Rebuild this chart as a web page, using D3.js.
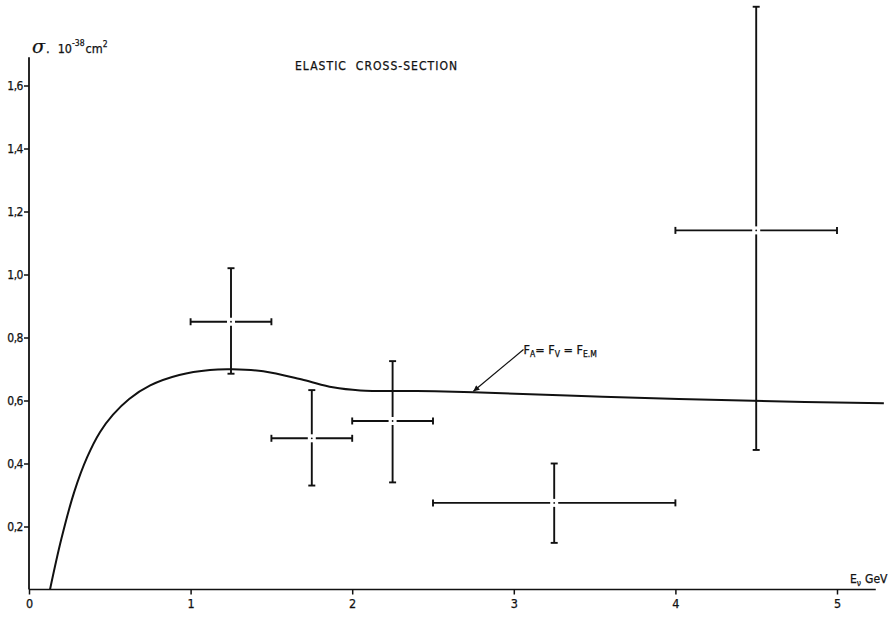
<!DOCTYPE html>
<html>
<head>
<meta charset="utf-8">
<script src="https://cdn.jsdelivr.net/npm/d3@7"></script>
<style>
  html, body { margin: 0; padding: 0; background: #fff; }
  svg { display: block; }
  text { font-family: "DejaVu Sans Condensed", "Liberation Sans", sans-serif; fill: #111; stroke: #111; stroke-width: 0.25px; }
</style>
</head>
<body>
<svg id="chart" width="895" height="618"></svg>
<script>
// Measured elastic cross-sections (neutrino energy bins)
const binCenter = [1.25, 1.75, 2.25, 3.25, 4.5];
const binLow    = [1.0, 1.5, 2.0, 2.5, 4.0];
const binHigh   = [1.5, 2.0, 2.5, 4.0, 5.0];
const sigma     = [0.85, 0.48, 0.535, 0.275, 1.14];
const sigmaLow  = [0.685, 0.33, 0.34, 0.148, 0.443];
const sigmaHigh = [1.02, 0.633, 0.725, 0.40, 1.85];

// Theoretical curve F_A = F_V = F_E.M
const curveE     = [0.13, 0.20, 0.28, 0.36, 0.44, 0.52, 0.62, 0.75, 0.93, 1.12, 1.26, 1.45, 1.70, 1.88, 2.05, 2.4, 2.75, 3.55, 4.48, 5.29];
const curveSigma = [0.0, 0.16, 0.31, 0.42, 0.50, 0.555, 0.605, 0.648, 0.681, 0.697, 0.699, 0.693, 0.665, 0.642, 0.632, 0.630, 0.626, 0.612, 0.599, 0.591];

// Axis ticks
const xTicks = [0, 1, 2, 3, 4, 5];
const yTicks = [0.2, 0.4, 0.6, 0.8, 1.0, 1.2, 1.4, 1.6];

const svg = d3.select("#chart");
const x = d3.scaleLinear().domain([0, 5]).range([29, 837]);
const y = d3.scaleLinear().domain([0, 1.6]).range([589.5, 85.5]);
const ink = "#111";
const font = "\"DejaVu Sans Condensed\", \"Liberation Sans\", sans-serif";

// Axis lines
svg.append("line")
  .attr("x1", x(0)).attr("x2", x(5.24))
  .attr("y1", y(0)).attr("y2", y(0))
  .attr("stroke", ink).attr("stroke-width", 1.6);
svg.append("line")
  .attr("x1", x(0)).attr("x2", x(0))
  .attr("y1", y(0)).attr("y2", y(1.69))
  .attr("stroke", ink).attr("stroke-width", 1.8);

// X axis ticks and labels
const xAxis = d3.axisBottom(x).tickValues(xTicks).tickSize(5).tickPadding(5)
  .tickFormat(d3.format("d"));
const gx = svg.append("g").attr("transform", `translate(0,${y(0)})`).call(xAxis);
gx.select(".domain").remove();
gx.selectAll(".tick line").attr("stroke", ink).attr("stroke-width", 1.5);
gx.selectAll(".tick text").attr("font-size", 12.5).attr("fill", ink).style("font-family", font);

// Y axis ticks and labels (decimal comma)
const yAxis = d3.axisLeft(y).tickValues(yTicks).tickSize(5).tickPadding(1)
  .tickFormat(d => d.toFixed(1).replace(".", ","));
const gy = svg.append("g").attr("transform", `translate(${x(0)},0)`).call(yAxis);
gy.select(".domain").remove();
gy.selectAll(".tick line").attr("stroke", ink).attr("stroke-width", 1.5);
gy.selectAll(".tick text").attr("font-size", 12).attr("fill", ink).style("font-family", font)
  .attr("letter-spacing", -0.5);

// Axis titles
const yt = svg.append("text").attr("x", 32).attr("y", 53).attr("font-size", 12.5);
yt.append("tspan").attr("font-size", 19).attr("font-family", "DejaVu Serif, serif").attr("font-style", "italic").text("σ");
yt.append("tspan").attr("dx", 1).attr("font-size", 13).text(".");
yt.append("tspan").attr("dx", 8).text("10");
yt.append("tspan").attr("dy", -7).attr("font-size", 8.5).text("-38");
yt.append("tspan").attr("dy", 7).attr("dx", 1).text("cm");
yt.append("tspan").attr("dy", -6).attr("font-size", 8.5).text("2");

const xt = svg.append("text").attr("x", 850).attr("y", 583).attr("font-size", 12);
xt.append("tspan").text("E");
xt.append("tspan").attr("dy", 3).attr("font-size", 8.5).text("ν");
xt.append("tspan").attr("dy", -3).attr("dx", 4).text("GeV");

// Title
svg.append("text").attr("x", 295).attr("y", 70)
  .attr("font-size", 12).attr("textLength", 162).attr("lengthAdjust", "spacing")
  .attr("xml:space", "preserve")
  .text("ELASTIC  CROSS-SECTION");

// Theory curve
const line = d3.line().x((d, i) => x(curveE[i])).y((d, i) => y(curveSigma[i]))
  .curve(d3.curveCatmullRom.alpha(0.5));
svg.append("path").datum(curveE).attr("d", line)
  .attr("fill", "none").attr("stroke", ink).attr("stroke-width", 2);

// Curve annotation with arrow
const arrowTip = [x(2.75), y(0.626) - 1];
const arrowTail = [x(3.06), y(0.762)];
svg.append("defs").append("marker")
  .attr("id", "head").attr("viewBox", "0 0 10 10").attr("refX", 10).attr("refY", 5)
  .attr("markerWidth", 10).attr("markerHeight", 6).attr("markerUnits", "userSpaceOnUse")
  .attr("orient", "auto")
  .append("path").attr("d", "M0,0 L10,5 L0,10 Z").attr("fill", ink);
svg.append("line")
  .attr("x1", arrowTail[0]).attr("y1", arrowTail[1])
  .attr("x2", arrowTip[0]).attr("y2", arrowTip[1])
  .attr("stroke", ink).attr("stroke-width", 1.2)
  .attr("marker-end", "url(#head)");
const lab = svg.append("text").attr("x", x(3.06)).attr("y", y(0.762) + 5).attr("font-size", 12.5);
lab.append("tspan").text("F");
lab.append("tspan").attr("dy", 3).attr("font-size", 8.5).text("A");
lab.append("tspan").attr("dy", -3).text("= F");
lab.append("tspan").attr("dy", 3).attr("font-size", 8.5).text("V");
lab.append("tspan").attr("dy", -3).text(" = F");
lab.append("tspan").attr("dy", 3).attr("font-size", 8.5).text("E.M");

// Data points: crosses with end caps and an open centre
const gap = 4, capV = 3.5, capH = 3.5;
const pts = svg.append("g").attr("stroke", ink).attr("stroke-width", 1.9).attr("fill", "none");
binCenter.forEach((e, i) => {
  const cx = x(e), cy = y(sigma[i]);
  const xl = x(binLow[i]), xr = x(binHigh[i]);
  const yTop = y(sigmaHigh[i]), yBot = y(sigmaLow[i]);
  const g = pts.append("g");
  // horizontal bar (energy bin)
  g.append("line").attr("x1", xl).attr("x2", cx - gap).attr("y1", cy).attr("y2", cy);
  g.append("line").attr("x1", cx + gap).attr("x2", xr).attr("y1", cy).attr("y2", cy);
  g.append("line").attr("x1", xl).attr("x2", xl).attr("y1", cy - capH).attr("y2", cy + capH);
  g.append("line").attr("x1", xr).attr("x2", xr).attr("y1", cy - capH).attr("y2", cy + capH);
  // vertical bar (uncertainty)
  g.append("line").attr("x1", cx).attr("x2", cx).attr("y1", yTop).attr("y2", cy - gap);
  g.append("line").attr("x1", cx).attr("x2", cx).attr("y1", cy + gap).attr("y2", yBot);
  g.append("line").attr("x1", cx - capV).attr("x2", cx + capV).attr("y1", yTop).attr("y2", yTop);
  g.append("line").attr("x1", cx - capV).attr("x2", cx + capV).attr("y1", yBot).attr("y2", yBot);
  // centre dot
  g.append("circle").attr("cx", cx).attr("cy", cy).attr("r", 0.9).attr("fill", ink).attr("stroke", "none");
});
</script>
</body>
</html>
